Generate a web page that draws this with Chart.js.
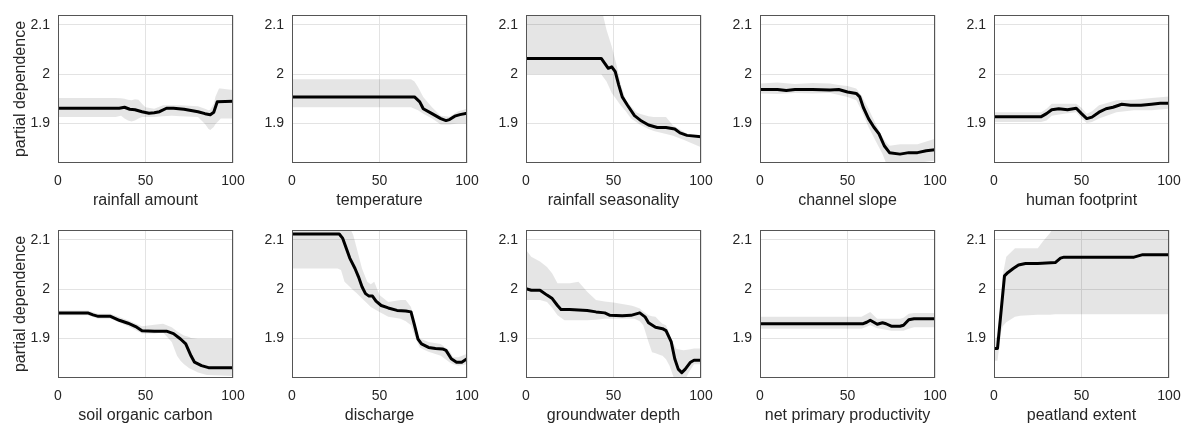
<!DOCTYPE html>
<html>
<head>
<meta charset="utf-8">
<script src="https://cdn.jsdelivr.net/npm/chart.js@4"></script>
<style>
  html, body { margin: 0; padding: 0; background: #fff; overflow: hidden; }
  #wrap { position: relative; width: 1185px; height: 425px; }
  canvas { position: absolute; }
</style>
</head>
<body>
<div id="wrap"></div>
<script>
// tick labels and axis titles
const xTicks = [0, 50, 100];
const yTicks = [1.9, 2, 2.1];
const axisLabels = ["rainfall amount", "temperature", "rainfall seasonality", "channel slope", "human footprint",
  "soil organic carbon", "discharge", "groundwater depth", "net primary productivity", "peatland extent"];

// rainfall amount
const rainAmtX = [0, 35, 38, 41, 44, 48, 52, 55, 58, 62, 66, 72, 80, 84, 87, 89, 91, 100];
const rainAmtPD = [1.931, 1.931, 1.933, 1.929, 1.928, 1.924, 1.921, 1.922, 1.924, 1.931, 1.931, 1.929, 1.924, 1.92, 1.918, 1.923, 1.944, 1.945];
const rainAmtBandX = [0, 33, 36, 38, 40, 42, 44, 46, 48, 50, 55, 60, 65, 70, 80, 84, 86, 87, 89, 90, 92, 93, 100];
const rainAmtHi = [1.952, 1.952, 1.951, 1.95, 1.948, 1.947, 1.949, 1.948, 1.94, 1.933, 1.93, 1.937, 1.937, 1.937, 1.935, 1.93, 1.927, 1.928, 1.94, 1.955, 1.971, 1.971, 1.968];
const rainAmtLo = [1.913, 1.913, 1.916, 1.91, 1.906, 1.904, 1.906, 1.91, 1.913, 1.913, 1.913, 1.915, 1.916, 1.915, 1.913, 1.899, 1.889, 1.887, 1.893, 1.899, 1.906, 1.91, 1.91];

// temperature
const tempX = [0, 70, 73, 75, 80, 85, 88, 90, 93, 96, 100];
const tempPD = [1.954, 1.954, 1.944, 1.93, 1.92, 1.91, 1.906, 1.908, 1.915, 1.918, 1.921];
const tempBandX = [0, 68, 70, 72, 75, 80, 85, 90, 95, 100];
const tempHi = [1.99, 1.99, 1.985, 1.974, 1.954, 1.933, 1.916, 1.914, 1.925, 1.93];
const tempLo = [1.933, 1.933, 1.93, 1.927, 1.92, 1.91, 1.898, 1.898, 1.9, 1.9];

// rainfall seasonality
const rainSeasX = [0, 43, 45, 47, 49, 51, 53, 55, 58, 62, 66, 70, 75, 80, 85, 88, 92, 100];
const rainSeasPD = [2.032, 2.032, 2.022, 2.012, 2.015, 2.005, 1.978, 1.954, 1.937, 1.916, 1.905, 1.897, 1.892, 1.892, 1.889, 1.881, 1.876, 1.873];
const rainSeasBandX = [0, 43, 44, 46, 49, 52, 54, 57, 60, 63, 65, 70, 73, 80, 84, 90, 92, 100];
const rainSeasHi = [2.15, 2.15, 2.12, 2.09, 2.056, 2.015, 1.981, 1.947, 1.935, 1.923, 1.92, 1.915, 1.913, 1.913, 1.896, 1.884, 1.879, 1.877];
const rainSeasLo = [2.0, 2.0, 1.995, 1.985, 1.962, 1.947, 1.937, 1.925, 1.91, 1.903, 1.898, 1.889, 1.885, 1.879, 1.875, 1.867, 1.864, 1.852];

// channel slope
const slopeX = [0, 10, 15, 20, 30, 40, 45, 50, 55, 57, 59, 62, 65, 68, 71, 74, 80, 85, 90, 95, 100];
const slopePD = [1.969, 1.969, 1.967, 1.969, 1.969, 1.968, 1.969, 1.964, 1.961, 1.954, 1.933, 1.91, 1.893, 1.879, 1.855, 1.841, 1.838, 1.841, 1.841, 1.845, 1.847];
const slopeBandX = [0, 10, 20, 30, 40, 45, 50, 55, 58, 62, 66, 70, 72, 74, 80, 90, 100];
const slopeHi = [1.981, 1.983, 1.98, 1.982, 1.981, 1.978, 1.976, 1.971, 1.957, 1.93, 1.9, 1.872, 1.862, 1.855, 1.858, 1.858, 1.869];
const slopeLo = [1.961, 1.96, 1.962, 1.961, 1.962, 1.958, 1.954, 1.947, 1.927, 1.893, 1.865, 1.838, 1.82, 1.815, 1.815, 1.82, 1.825];

// human footprint
const footX = [0, 27, 30, 33, 37, 42, 47, 50, 53, 56, 60, 64, 68, 73, 78, 84, 90, 95, 100];
const footPD = [1.914, 1.914, 1.92, 1.928, 1.93, 1.928, 1.931, 1.92, 1.91, 1.913, 1.923, 1.93, 1.933, 1.939, 1.937, 1.937, 1.939, 1.941, 1.941];
const footBandX = [0, 27, 30, 33, 40, 47, 50, 53, 56, 60, 70, 80, 90, 100];
const footHi = [1.923, 1.923, 1.93, 1.94, 1.94, 1.94, 1.932, 1.92, 1.925, 1.937, 1.947, 1.948, 1.952, 1.955];
const footLo = [1.903, 1.903, 1.906, 1.916, 1.92, 1.923, 1.91, 1.901, 1.903, 1.91, 1.923, 1.927, 1.927, 1.93];

// soil organic carbon
const socX = [0, 17, 20, 23, 30, 35, 40, 45, 48, 55, 62, 66, 70, 73, 76, 78, 82, 86, 100];
const socPD = [1.952, 1.952, 1.948, 1.945, 1.945, 1.937, 1.931, 1.923, 1.916, 1.915, 1.915, 1.91, 1.899, 1.889, 1.865, 1.852, 1.845, 1.841, 1.841];
const socBandX = [0, 17, 23, 30, 40, 48, 55, 60, 65, 68, 70, 72, 75, 76, 80, 85, 100];
const socHi = [1.957, 1.957, 1.95, 1.95, 1.937, 1.925, 1.928, 1.93, 1.923, 1.915, 1.91, 1.906, 1.903, 1.901, 1.899, 1.899, 1.899];
const socLo = [1.947, 1.947, 1.94, 1.94, 1.925, 1.91, 1.91, 1.912, 1.893, 1.865, 1.855, 1.848, 1.84, 1.838, 1.831, 1.826, 1.824];

// discharge
const dischX = [0, 27, 29, 31, 33, 36, 38, 40, 42, 44, 46, 48, 51, 55, 60, 65, 68, 70, 72, 74, 78, 82, 86, 88, 91, 94, 97, 100];
const dischPD = [2.112, 2.112, 2.103, 2.083, 2.063, 2.042, 2.025, 2.005, 1.991, 1.986, 1.986, 1.976, 1.967, 1.962, 1.957, 1.956, 1.954, 1.927, 1.899, 1.889, 1.882, 1.88, 1.879, 1.876, 1.859, 1.852, 1.852, 1.859];
const dischBandX = [0, 26, 28, 30, 33, 35, 37, 40, 43, 45, 47, 50, 55, 62, 65, 68, 70, 72, 73, 76, 78, 85, 90, 92, 95, 100];
const dischHi = [2.15, 2.15, 2.15, 2.14, 2.125, 2.11, 2.083, 2.042, 2.015, 2.01, 2.015, 1.988, 1.974, 1.978, 1.978, 1.964, 1.935, 1.906, 1.9, 1.896, 1.893, 1.889, 1.875, 1.862, 1.862, 1.869];
const dischLo = [2.042, 2.042, 2.039, 2.015, 2.005, 1.998, 1.992, 1.981, 1.971, 1.964, 1.96, 1.954, 1.944, 1.94, 1.935, 1.927, 1.906, 1.89, 1.882, 1.876, 1.873, 1.865, 1.852, 1.848, 1.845, 1.848];

// groundwater depth
const gwX = [0, 3, 8, 12, 15, 18, 20, 25, 35, 40, 45, 48, 55, 60, 65, 68, 70, 74, 78, 80, 83, 85, 87, 89, 91, 94, 96, 100];
const gwPD = [2.001, 1.998, 1.998, 1.988, 1.981, 1.967, 1.959, 1.959, 1.957, 1.954, 1.952, 1.947, 1.946, 1.947, 1.952, 1.944, 1.932, 1.923, 1.92, 1.916, 1.893, 1.859, 1.838, 1.831, 1.838, 1.852, 1.856, 1.856];
const gwBandX = [0, 3, 8, 12, 15, 18, 22, 25, 30, 35, 40, 45, 50, 55, 60, 62, 65, 67, 70, 72, 74, 77, 78, 80, 82, 83, 85, 86, 90, 93, 96, 100];
const gwHi = [2.08, 2.066, 2.056, 2.045, 2.032, 2.012, 2.012, 2.012, 2.015, 1.995, 1.978, 1.975, 1.973, 1.97, 1.967, 1.965, 1.961, 1.955, 1.947, 1.945, 1.944, 1.933, 1.93, 1.927, 1.91, 1.899, 1.885, 1.879, 1.876, 1.878, 1.88, 1.88];
const gwLo = [1.978, 1.978, 1.978, 1.974, 1.962, 1.947, 1.937, 1.937, 1.937, 1.937, 1.938, 1.94, 1.94, 1.94, 1.94, 1.94, 1.935, 1.927, 1.893, 1.872, 1.87, 1.866, 1.865, 1.858, 1.845, 1.835, 1.815, 1.81, 1.81, 1.831, 1.848, 1.848];

// net primary productivity
const nppX = [0, 59, 61, 63, 65, 67, 70, 72, 75, 80, 82, 85, 88, 100];
const nppPD = [1.93, 1.93, 1.933, 1.937, 1.933, 1.929, 1.932, 1.93, 1.925, 1.925, 1.927, 1.938, 1.94, 1.94];
const nppBandX = [0, 58, 63, 67, 72, 75, 80, 82, 85, 88, 100];
const nppHi = [1.944, 1.944, 1.954, 1.94, 1.94, 1.94, 1.94, 1.942, 1.95, 1.952, 1.952];
const nppLo = [1.92, 1.92, 1.927, 1.921, 1.918, 1.916, 1.916, 1.916, 1.92, 1.923, 1.923];

// peatland extent
const peatX = [0, 2, 6, 8, 11, 14, 18, 25, 35, 38, 40, 60, 80, 85, 100];
const peatPD = [1.88, 1.88, 2.027, 2.034, 2.042, 2.049, 2.052, 2.052, 2.054, 2.063, 2.065, 2.065, 2.065, 2.07, 2.07];
const peatBandX = [0, 2, 4, 5, 7, 12, 15, 25, 28, 32, 35, 100];
const peatHi = [1.893, 1.906, 1.98, 2.029, 2.066, 2.083, 2.083, 2.083, 2.097, 2.114, 2.13, 2.13];
const peatLo = [1.855, 1.855, 1.913, 1.925, 1.933, 1.944, 1.946, 1.948, 1.948, 1.948, 1.949, 1.949];

const panels = [
  [rainAmtX, rainAmtPD, rainAmtBandX, rainAmtHi, rainAmtLo],
  [tempX, tempPD, tempBandX, tempHi, tempLo],
  [rainSeasX, rainSeasPD, rainSeasBandX, rainSeasHi, rainSeasLo],
  [slopeX, slopePD, slopeBandX, slopeHi, slopeLo],
  [footX, footPD, footBandX, footHi, footLo],
  [socX, socPD, socBandX, socHi, socLo],
  [dischX, dischPD, dischBandX, dischHi, dischLo],
  [gwX, gwPD, gwBandX, gwHi, gwLo],
  [nppX, nppPD, nppBandX, nppHi, nppLo],
  [peatX, peatPD, peatBandX, peatHi, peatLo],
];

const pts = (xs, ys) => xs.map((x, i) => ({ x, y: ys[i] }));
const txt = "#262626";
const font = "'Liberation Sans', Arial, Helvetica, sans-serif";

// box around the plot area (all four sides)
const boxPlugin = {
  id: "box",
  afterDatasetsDraw(chart) {
    const a = chart.chartArea, ctx = chart.ctx;
    ctx.save();
    ctx.strokeStyle = "#555";
    ctx.lineWidth = 1;
    ctx.strokeRect(Math.round(a.left) + 0.5, Math.round(a.top) + 0.5, Math.round(a.right - a.left) - 1, Math.round(a.bottom - a.top) - 1);
    ctx.restore();
  },
};

const wrap = document.getElementById("wrap");
panels.forEach((p, i) => {
  const col = i % 5, row = Math.floor(i / 5);
  const cv = document.createElement("canvas");
  cv.width = 247; cv.height = 212;
  cv.style.left = col * 234 + "px";
  cv.style.top = row * 215 + "px";
  wrap.appendChild(cv);

  new Chart(cv, {
    type: "line",
    data: {
      datasets: [
        { data: pts(p[0], p[1]), borderColor: "#000", borderWidth: 3, borderJoinStyle: "round", pointRadius: 0, fill: false, tension: 0 },
        { data: pts(p[2], p[3]), borderColor: "rgba(0,0,0,0)", borderWidth: 0, pointRadius: 0, fill: "+1", backgroundColor: "rgba(0,0,0,0.1)" },
        { data: pts(p[2], p[4]), borderColor: "rgba(0,0,0,0)", borderWidth: 0, pointRadius: 0, fill: false },
      ],
    },
    options: {
      responsive: false,
      animation: false,
      events: [],
      layout: { padding: { top: 15, right: 14, left: 0, bottom: 0 } },
      plugins: { legend: { display: false }, tooltip: { enabled: false } },
      scales: {
        x: {
          type: "linear", min: 0, max: 100,
          afterBuildTicks: (s) => { s.ticks = xTicks.map((v) => ({ value: v })); },
          afterFit: (s) => { s.height = 49; s.paddingLeft = 0; s.paddingRight = 0; },
          grid: { color: "#e3e3e3", drawTicks: false },
          border: { display: false },
          ticks: { color: txt, font: { family: font, size: 14 }, padding: 10, maxRotation: 0 },
          title: { display: true, text: axisLabels[i], color: txt, font: { family: font, size: 16 }, padding: { top: 0, bottom: 2 } },
        },
        y: {
          min: 1.82, max: 2.12,
          afterBuildTicks: (s) => { s.ticks = yTicks.map((v) => ({ value: v })); },
          afterFit: (s) => { s.width = 58; s.paddingTop = 0; s.paddingBottom = 0; },
          grid: { color: "#e3e3e3", drawTicks: false },
          border: { display: false },
          ticks: { color: txt, font: { family: font, size: 14 }, padding: 8, callback: (v) => String(Math.round(v * 10) / 10) },
          title: { display: col === 0, text: "partial dependence", color: txt, font: { family: font, size: 16 }, padding: { top: 11, bottom: 0 } },
        },
      },
    },
    plugins: [boxPlugin],
  });
});
</script>
</body>
</html>
